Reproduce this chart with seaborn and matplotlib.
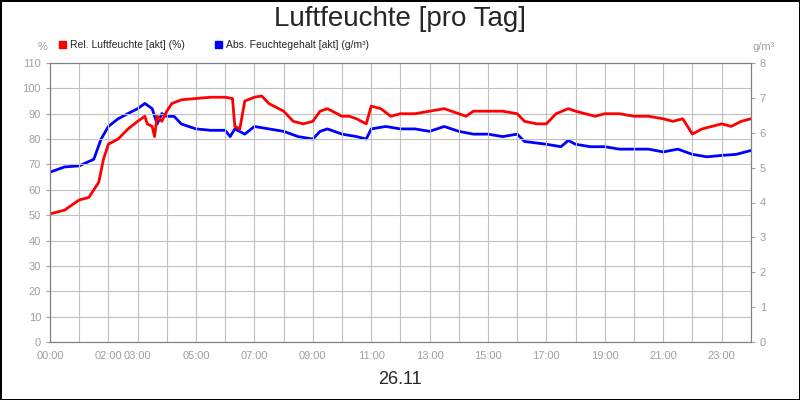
import matplotlib
matplotlib.use("Agg")
import matplotlib.pyplot as plt
import seaborn as sns
import pandas as pd

# relative humidity (%), time in hours
rel_t = [0, 0.5, 1, 1.33, 1.67, 1.83, 2, 2.33, 2.67, 3, 3.25, 3.33, 3.5, 3.58, 3.67, 3.83,
         4, 4.17, 4.5, 5, 5.5, 6, 6.25, 6.33, 6.5, 6.67, 7, 7.25, 7.5, 8, 8.33, 8.67, 9,
         9.25, 9.5, 10, 10.25, 10.5, 10.83, 11, 11.33, 11.67, 12, 12.5, 13, 13.5, 14,
         14.25, 14.5, 15, 15.5, 16, 16.25, 16.67, 17, 17.33, 17.75, 18, 18.33, 18.67, 19,
         19.5, 20, 20.5, 21, 21.33, 21.67, 22, 22.33, 23, 23.33, 23.67, 24]
rel_v = [50.5, 52, 56, 57, 63, 72, 78, 80, 84, 87, 89, 86, 85, 81, 89, 87,
         91, 94, 95.5, 96, 96.5, 96.5, 96, 85, 84, 95, 96.5, 97, 94, 91, 87, 86, 87,
         91, 92, 89, 89, 88, 86, 93, 92, 89, 90, 90, 91, 92, 90,
         89, 91, 91, 91, 90, 87, 86, 86, 90, 92, 91, 90, 89, 90,
         90, 89, 89, 88, 87, 88, 82, 84, 86, 85, 87, 88]

# absolute moisture (g/m³)
abs_t = [0, 0.5, 1, 1.5, 1.75, 2, 2.33, 2.67, 3, 3.25, 3.5, 3.67, 3.83, 4, 4.25, 4.5,
         5, 5.5, 6, 6.17, 6.33, 6.67, 7, 7.5, 8, 8.5, 9, 9.25, 9.5, 10, 10.5, 10.83,
         11, 11.5, 12, 12.5, 13, 13.5, 14, 14.5, 15, 15.5, 16, 16.25, 17, 17.5, 17.75,
         18, 18.5, 19, 19.5, 20, 20.5, 21, 21.5, 22, 22.5, 23, 23.5, 24]
abs_v = [4.87, 5.02, 5.05, 5.24, 5.82, 6.18, 6.40, 6.55, 6.69, 6.84, 6.69, 6.25, 6.55,
         6.47, 6.47, 6.25, 6.11, 6.07, 6.07, 5.89, 6.11, 5.96, 6.18, 6.11, 6.04, 5.89,
         5.82, 6.04, 6.11, 5.96, 5.89, 5.82, 6.11, 6.18, 6.11, 6.11, 6.04, 6.18, 6.04,
         5.96, 5.96, 5.89, 5.96, 5.75, 5.67, 5.60, 5.78, 5.67, 5.60, 5.60, 5.53, 5.53,
         5.53, 5.45, 5.53, 5.38, 5.31, 5.35, 5.38, 5.49]

tick_hours = [0, 2, 3, 5, 7, 9, 11, 13, 15, 17, 19, 21, 23]
tick_labels = ["00:00", "02:00", "03:00", "05:00", "07:00", "09:00", "11:00",
               "13:00", "15:00", "17:00", "19:00", "21:00", "23:00"]

sns.set_style("white")
plt.rcParams['font.family'] = ['Liberation Sans', 'DejaVu Sans']

fig = plt.figure(figsize=(8, 4), dpi=100)
fig.patch.set_edgecolor("black")
fig.patch.set_linewidth(2)
ax = fig.add_axes([0.0625, 0.145, 0.876, 0.6975])
ax2 = ax.twinx()

rel = pd.DataFrame({"t": rel_t, "v": rel_v})
ab = pd.DataFrame({"t": abs_t, "v": abs_v})
sns.lineplot(data=ab, x="t", y="v", ax=ax2, color="#0000ff", lw=2)
sns.lineplot(data=rel, x="t", y="v", ax=ax, color="#ff0000", lw=2)
ax.set_zorder(ax2.get_zorder() + 1)
ax.patch.set_visible(False)

ax.set_xlim(0, 24)
ax.set_ylim(0, 110)
ax2.set_ylim(0, 8)
ax.set_yticks(range(0, 111, 10))
ax2.set_yticks(range(0, 9))
ax.set_xticks(range(0, 25), minor=True)
ax.set_xticks(tick_hours)
ax.set_xticklabels(tick_labels)
ax.grid(True, which="both", axis="x", color="#c0c0c0", lw=0.8)
ax.grid(True, which="major", axis="y", color="#c0c0c0", lw=0.8)
ax2.grid(False)
for a in (ax, ax2):
    a.set_xlabel("")
    a.set_ylabel("")
    a.tick_params(labelsize=8, colors="#a0a0a0", length=3)
    for s in a.spines.values():
        s.set_color("#808080")

fig.text(0.5, 0.953, "Luftfeuchte [pro Tag]", ha="center", va="center", fontsize=20)
fig.text(0.5, 0.05, "26.11", ha="center", va="center", fontsize=13)
fig.text(0.053, 0.875, "%", ha="center", fontsize=8, color="#a0a0a0")
fig.text(0.955, 0.875, "g/m³", ha="center", fontsize=8, color="#a0a0a0")
fig.patches.append(plt.Rectangle((0.074, 0.88), 0.009, 0.018, color="#ff0000", transform=fig.transFigure))
fig.text(0.087, 0.88, "Rel. Luftfeuchte [akt] (%)", fontsize=7.5)
fig.patches.append(plt.Rectangle((0.269, 0.88), 0.009, 0.018, color="#0000ff", transform=fig.transFigure))
fig.text(0.282, 0.88, "Abs. Feuchtegehalt [akt] (g/m³)", fontsize=7.5)

fig.savefig("out.png", dpi=100, edgecolor=fig.get_edgecolor())
